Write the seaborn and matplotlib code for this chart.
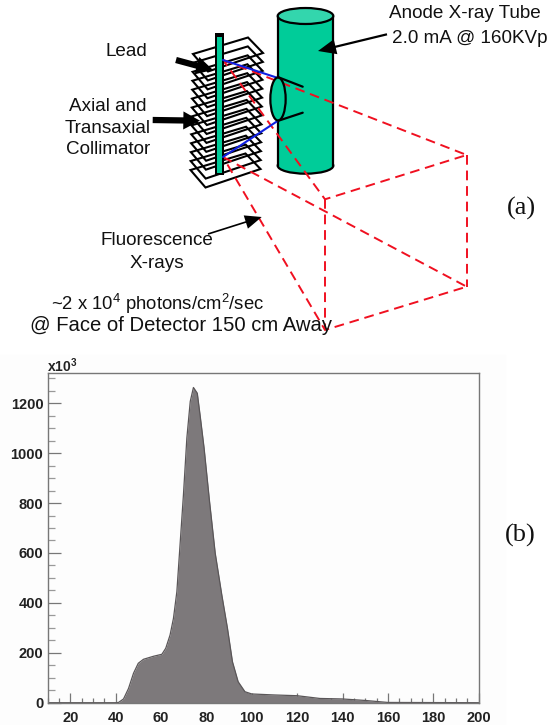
import numpy as np
import matplotlib
matplotlib.use("Agg")
import matplotlib.pyplot as plt
from matplotlib.patches import Ellipse, Polygon, Rectangle
from matplotlib.ticker import MultipleLocator
import seaborn as sns

# spectrum
energy = [10, 40, 41.3, 43.5, 45.7, 47.9, 50, 52.3, 56.7, 60.4, 62.1, 64, 65.5, 67, 68.4, 69.9, 71.4,
          72.9, 74.3, 76, 77.3, 79, 81.4, 83.9, 86.8, 89.3, 91.5, 94, 97, 100, 110, 120, 130, 140, 150, 160, 200]
counts = [0, 0, 1, 15, 57, 118, 158, 174, 186, 194, 218, 271, 338, 445, 632, 833, 1060,
          1207, 1263, 1240, 1147, 1020, 806, 599, 432, 298, 164, 84, 44, 35, 31, 28, 17, 15, 9, 1, 0]
x_ticks = [20, 40, 60, 80, 100, 120, 140, 160, 180, 200]
y_ticks = [0, 200, 400, 600, 800, 1000, 1200]

sns.set_style("white")
plt.rcParams["font.family"] = ["Liberation Sans", "DejaVu Sans"]
plt.rcParams["mathtext.fontset"] = "custom"
plt.rcParams["mathtext.rm"] = "Liberation Sans"
plt.rcParams["mathtext.default"] = "regular"

W, H = 550, 725
fig = plt.figure(figsize=(W / 100, H / 100), dpi=100, facecolor="white")

# Panel (b) histogram
fig.patches.append(Rectangle((0, 0), 505 / W, (H - 355) / H, transform=fig.transFigure, color="#fdfdfd", zorder=-5))
ax = fig.add_axes([47.5 / W, (H - 702.7) / H, 431.2 / W, 330.2 / H])
ax.patch.set_alpha(0)
sns.lineplot(x=energy, y=counts, ax=ax, color="#5a5658", lw=0.9, estimator=None)
ax.fill_between(energy, counts, color="#7d797b", lw=0)
ax.set_xlim(10, 200)
ax.set_ylim(0, 1323)
ax.set_xticks(x_ticks)
ax.set_yticks(y_ticks)
ax.xaxis.set_minor_locator(MultipleLocator(5))
ax.yaxis.set_minor_locator(MultipleLocator(50))
ax.tick_params(axis="x", which="major", direction="in", length=7.5, width=0.9, color="#777777", bottom=True, pad=6)
ax.tick_params(axis="x", which="minor", direction="in", length=3.6, width=0.9, color="#777777", bottom=True)
ax.tick_params(axis="y", which="major", direction="in", length=9.5, width=0.9, color="#777777", left=True, pad=3)
ax.tick_params(axis="y", which="minor", direction="in", length=5, width=0.9, color="#999999", left=True)
for lab in ax.get_xticklabels() + ax.get_yticklabels():
    lab.set_fontweight("bold")
    lab.set_fontsize(10.5)
    lab.set_color("#222222")
for sp in ax.spines.values():
    sp.set_color("#777777")
    sp.set_linewidth(1.0)
    sp.set_visible(True)

# Panel (a) schematic, drawn on a pixel-coordinate overlay
ov = fig.add_axes([0, 0, 1, 1])
ov.set_xlim(0, W)
ov.set_ylim(H, 0)
ov.axis("off")
ov.patch.set_alpha(0)

GREEN = "#00cc99"
RED = "#f01020"

# tube body
ov.add_patch(Ellipse((305.5, 165.7), 55.6, 16, fc=GREEN, ec="k", lw=1.6, zorder=2))
ov.add_patch(Rectangle((277.7, 16), 55.6, 149.7, fc=GREEN, ec="none", zorder=2))
ov.plot([277.7, 277.7], [16, 165.7], color="k", lw=1.6, zorder=2)
ov.plot([333.3, 333.3], [16, 165.7], color="k", lw=1.6, zorder=2)
ov.add_patch(Ellipse((305.5, 16), 55.6, 16, fc="#33d6ad", ec="k", lw=1.6, zorder=2))

# collimator plates, open outlines so they show through each other
n_plates = 14
for i, y0 in enumerate(np.linspace(54, 170, n_plates)):
    dx = -2.5 * i / (n_plates - 1)
    shape = [(193 + dx, y0), (248 + dx, y0 - 16.5), (263 + dx, y0 - 1), (208 + dx, y0 + 17.5)]
    ov.add_patch(Polygon(shape, closed=True, fc="none", ec="k", lw=1.5, zorder=3))

# dashed beam
beam = [[(223, 60), (466.7, 155), (325, 199.3), (223, 60)],
        [(223, 157), (466.7, 286.7), (325, 330), (223, 157)],
        [(325, 199.3), (325, 330)],
        [(466.7, 155), (466.7, 286.7)]]
for seg in beam:
    xs, ys = zip(*seg)
    ov.plot(xs, ys, color=RED, lw=1.4, ls=(0, (5, 3)), zorder=4)

# lead strip
ov.add_patch(Rectangle((215, 33), 9.3, 142, fc="k", ec="none", zorder=5))
ov.add_patch(Rectangle((216.5, 37), 5.2, 136, fc=GREEN, ec="none", zorder=5))

# blue edges and tube port
ov.plot([223, 278], [60, 78], color="#1020e0", lw=1.5, zorder=6)
ov.plot([223, 278], [157, 120.7], color="#1020e0", lw=1.5, zorder=6)
ov.add_patch(Ellipse((278, 99), 15.3, 43, fc=GREEN, ec="k", lw=1.6, zorder=6))
ov.plot([278.5, 302.7], [77.3, 86.7], color="k", lw=1.6, zorder=6)
ov.plot([278.5, 302.7], [120.7, 112.7], color="k", lw=1.6, zorder=6)

# arrows
arrows = [((176, 60), (213, 70), 4.5, 13, 12),
          ((152.7, 120), (200, 120.7), 4.5, 13, 12),
          ((387, 34.3), (318, 51), 1.6, 11, 13),
          ((208, 234), (261.7, 217), 1.2, 10, 12)]
for start, end, w, hw, hl in arrows:
    ov.annotate("", xy=end, xytext=start, zorder=7,
                arrowprops=dict(facecolor="k", edgecolor="none", width=w, headwidth=hw, headlength=hl,
                                shrink=0))

# labels
labels = [("Lead", 126, 51, 13.6), ("Axial and", 108, 106, 13.6), ("Transaxial", 108, 128, 13.6),
          ("Collimator", 108, 149, 13.6), ("Fluorescence", 157, 240, 13.6), ("X-rays", 157, 263, 13.6),
          ("~2 x 10$^4$ photons/cm$^2$/sec", 158, 304, 13.3), ("@ Face of Detector 150 cm Away", 181, 325, 14.6),
          ("Anode X-ray Tube", 465, 13, 13.6), ("2.0 mA @ 160KVp", 470, 38, 13.6)]
for txt, lx, ly, fs in labels:
    ov.text(lx, ly, txt, ha="center", va="center", fontsize=fs, color="#111111", zorder=8)
ov.text(521.7, 208, "(a)", ha="center", va="center", fontsize=19, family="Liberation Serif", color="#111111")
ov.text(520.7, 535.7, "(b)", ha="center", va="center", fontsize=19, family="Liberation Serif", color="#111111")
ov.text(47, 366, "x10$^{3}$", ha="left", va="center", fontsize=10, fontweight="bold", color="#222222")

fig.savefig("out.png", dpi=100)
